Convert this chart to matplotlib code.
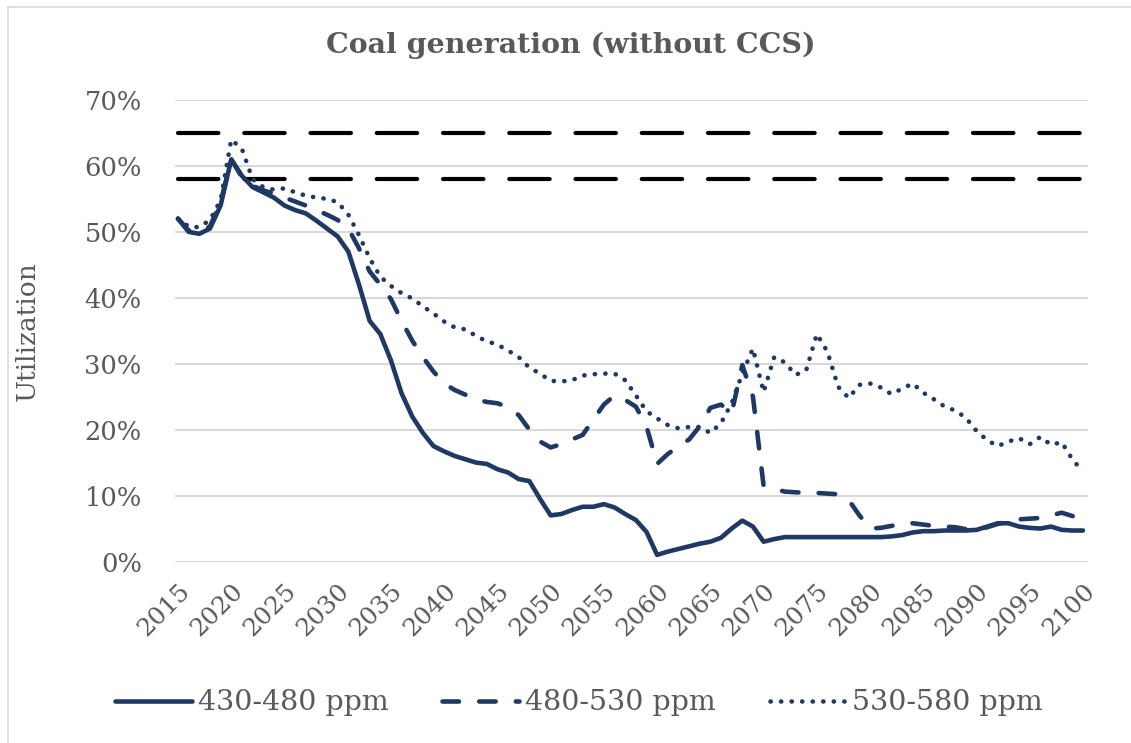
import matplotlib
matplotlib.use("Agg")
import matplotlib.pyplot as plt
from matplotlib.lines import Line2D
import numpy as np

years = list(range(2015, 2101))

s430_480 = [52, 50, 49.7, 50.5, 54, 61, 58.5, 56.8, 56, 55.2,
            54, 53.3, 52.8, 51.7, 50.5, 49.3, 47, 42, 36.5, 34.5,
            30.5, 25.5, 22, 19.5, 17.5, 16.7, 16, 15.5, 15, 14.8,
            14, 13.5, 12.5, 12.2, 9.5, 7, 7.2, 7.8, 8.3, 8.3,
            8.7, 8.2, 7.2, 6.3, 4.5, 1.0, 1.5, 1.9, 2.3, 2.7,
            3.0, 3.6, 5.0, 6.2, 5.3, 3.0, 3.4, 3.7, 3.7, 3.7,
            3.7, 3.7, 3.7, 3.7, 3.7, 3.7, 3.7, 3.8, 4.0, 4.4,
            4.6, 4.6, 4.7, 4.7, 4.7, 4.8, 5.3, 5.8, 5.8, 5.3,
            5.1, 5.0, 5.3, 4.8, 4.7, 4.7]

s480_530 = [52, 50.2, 50, 50.8, 54.5, 61, 58.3, 57, 56.3, 55.8,
            55.2, 54.6, 54, 53.3, 52.6, 51.8, 50.5, 47.5, 44, 42,
            39.8, 36.5, 33.5, 31, 28.8, 27, 26, 25.3, 24.6, 24.2,
            24, 23.4, 22.2, 20, 18.2, 17.3, 17.8, 18.5, 19.2, 21.5,
            23.8, 25.2, 24.5, 23.5, 20.5, 14.8, 16.3, 17.5, 18.5, 20.5,
            23.3, 23.8, 22.5, 29.8, 25, 11.5, 11, 10.6, 10.5, 10.4,
            10.4, 10.3, 10.2, 9.3, 7.0, 5.0, 5.1, 5.4, 5.7, 5.8,
            5.6, 5.4, 5.3, 5.2, 4.9, 4.8, 5.2, 5.7, 6.1, 6.4,
            6.5, 6.6, 7.0, 7.4, 6.9, 6.3]

s530_580 = [52, 50.8, 50.7, 51.8, 54.8, 64, 62.6, 58, 56.8, 56.4,
            56.6, 56, 55.5, 55.2, 55, 54.5, 52.6, 49.5, 46, 43.2,
            41.8, 40.7, 39.9, 38.7, 37.6, 36.4, 35.5, 35.2, 34.2, 33.4,
            32.9, 32, 31, 29.4, 28.5, 27.4, 27.3, 27.5, 28.2, 28.4,
            28.5, 28.5, 27.5, 25.2, 22.8, 21.7, 20.7, 20.2, 20.4, 20.4,
            19.5, 21, 24, 28.5, 32.3, 25.7, 31, 30.2, 28.3, 29,
            34.5, 31.8, 26.5, 24.8, 26.8, 27.0, 26.4, 25.4, 26.2, 27.0,
            25.6, 24.6, 23.5, 22.9, 21.8, 19.8, 18.4, 17.5, 18.2, 18.7,
            17.8, 18.9, 17.7, 18.1, 15.5, 13.6]

ref_upper = 65
ref_lower = 58
series_names = ["430-480 ppm", "480-530 ppm", "530-580 ppm"]
tick_years = list(range(2015, 2101, 5))
y_ticks = [0, 10, 20, 30, 40, 50, 60, 70]

navy = "#1F3864"
grey_text = "#595959"
font = "DejaVu Serif"
plt.rcParams["font.family"] = font

W, H = 1131, 743
fig = plt.figure(figsize=(W / 100, H / 100), dpi=100)
ax = fig.add_axes([175 / W, 1 - 561.5 / H, (1088 - 175) / W, (561.5 - 100) / H])

lw = 3.3
# reference lines
for v in (ref_upper, ref_lower):
    ln, = ax.plot([years[0], years[-1]], [v, v], color="black", lw=3.0,
                  solid_capstyle="round", dash_capstyle="round", zorder=2)
    ln.set_dashes([9.7, 6.2])

l1, = ax.plot(years, s430_480, color=navy, lw=lw, solid_joinstyle="round",
              solid_capstyle="round", zorder=3, label=series_names[0])
l2, = ax.plot(years, s480_530, color=navy, lw=lw, dash_capstyle="round",
              dash_joinstyle="round", zorder=3, label=series_names[1])
l2.set_dashes([3.6, 4.4])
l3, = ax.plot(years, s530_580, color=navy, lw=lw, dash_capstyle="round",
              dash_joinstyle="round", zorder=3, label=series_names[2])
l3.set_dashes([0.05, 2.25])

ax.set_xlim(2015 - 3 / 10.647, 2100 + 5 / 10.647)
ax.set_ylim(0, 70)
ax.set_yticks(y_ticks)
ax.set_yticklabels([f"{t}%" for t in y_ticks], fontsize=18.5, color=grey_text)
ax.set_xticks(tick_years)
ax.set_xticklabels([str(y) for y in tick_years], fontsize=18, color=grey_text,
                   rotation=45, ha="right", va="top", rotation_mode="anchor")
ax.tick_params(axis="both", length=0)
ax.tick_params(axis="y", pad=24)
ax.tick_params(axis="x", pad=13)
ax.grid(axis="y", color="#d9d9d9", lw=1.5, zorder=0)
ax.set_axisbelow(True)
for s in ax.spines.values():
    s.set_visible(False)

ax.set_ylabel("Utilization", fontsize=19, color=grey_text)
ax.yaxis.set_label_coords(-0.148, 0.5)

fig.text(0.505, 1 - 45 / H, "Coal generation (without CCS)", ha="center",
         va="center", fontsize=20.5, fontweight="bold", color=grey_text)

leg = fig.legend(handles=[l1, l2, l3], loc="center", bbox_to_anchor=(0.512, 1 - 703 / H),
                 ncol=3, frameon=False, fontsize=20.5, handlelength=2.7,
                 handletextpad=0.2, columnspacing=1.9, labelcolor=grey_text)

# chart area border (left / top)
fig.add_artist(Line2D([8 / W, 8 / W], [0, 1 - 7 / H], color="#d9d9d9", lw=1.2,
                      transform=fig.transFigure))
fig.add_artist(Line2D([8 / W, 1], [1 - 7 / H, 1 - 7 / H], color="#d9d9d9", lw=1.2,
                      transform=fig.transFigure))

fig.savefig("out.png", dpi=100, facecolor="white")
